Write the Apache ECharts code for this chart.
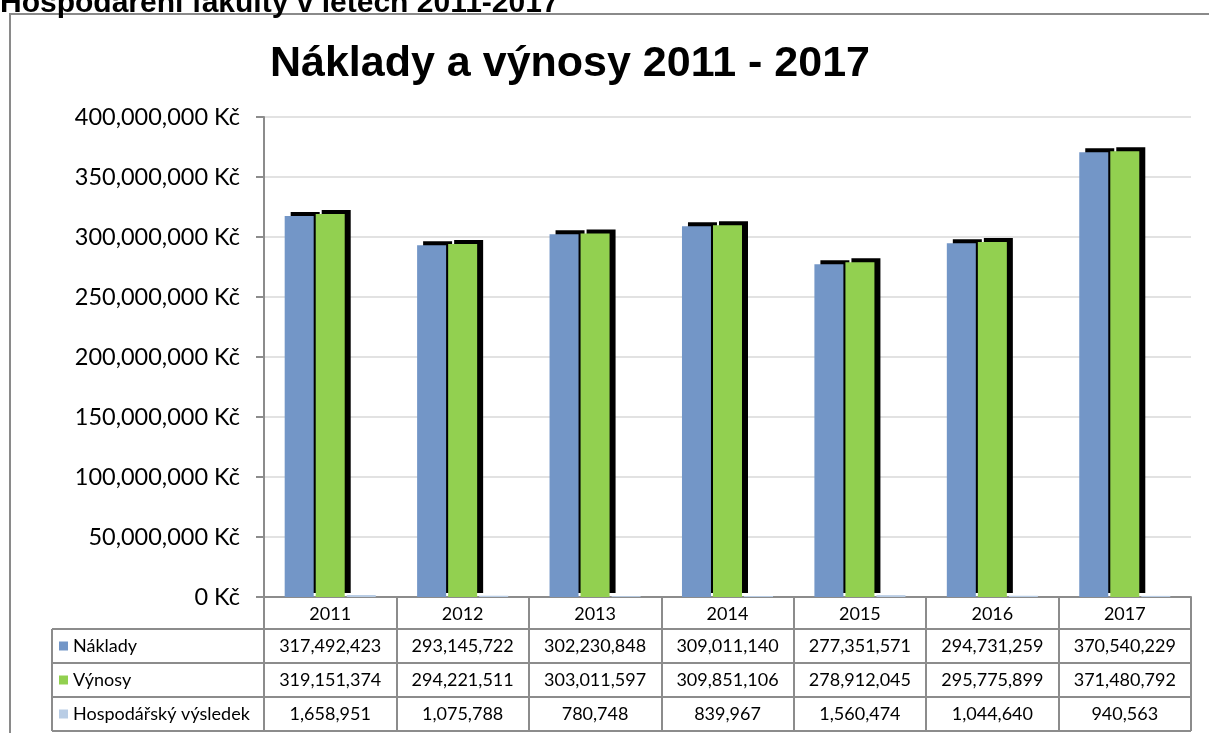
<!DOCTYPE html>
<html>
<head>
<meta charset="utf-8">
<script src="https://cdn.jsdelivr.net/npm/echarts@6/dist/echarts.min.js"></script>
<style>
html,body{margin:0;padding:0;background:#fff;}
#chart{width:1209px;height:733px;}
</style>
</head>
<body>
<div id="chart"></div>
<script>
// ---- data ----
var years = ['2011', '2012', '2013', '2014', '2015', '2016', '2017'];
var seriesNames = ['Náklady', 'Výnosy', 'Hospodářský výsledek'];
var naklady = [317492423, 293145722, 302230848, 309011140, 277351571, 294731259, 370540229];
var vynosy = [319151374, 294221511, 303011597, 309851106, 278912045, 295775899, 371480792];
var vysledek = [1658951, 1075788, 780748, 839967, 1560474, 1044640, 940563];
var yTicks = [0, 50000000, 100000000, 150000000, 200000000, 250000000, 300000000, 350000000, 400000000];
var chartTitle = 'Náklady a výnosy 2011 - 2017';
var pageTitle = 'Hospodaření fakulty v letech 2011-2017';

// ---- layout ----
var W = 1209, H = 733;
var gridLeft = 264, gridRight = 18, gridTop = 117, gridBottom = 136;
var axisY = H - gridBottom;         // y of 0 line
var rowH = 34;
var headH = 32;
var tableLeft = 52;
var tableBottom = axisY + headH + rowH * 3;
var colors = ['#7396C7', '#92D050', '#B9CDE5'];
var grey = '#8C8C8C';
var font = 'Lato, "Liberation Sans", sans-serif';

function fmt(v) { return v.toString().replace(/\B(?=(\d{3})+(?!\d))/g, ','); }

var chart = echarts.init(document.getElementById('chart'), null, {renderer: 'canvas'});

var barStyle = function (c, shadow) {
  var s = {color: c};
  if (shadow) {
    s.shadowColor = '#000';
    s.shadowBlur = 0;
    s.shadowOffsetX = 6;
    s.shadowOffsetY = -4;
  }
  return s;
};

var rows = [naklady, vynosy, vysledek];
var xAxes = [{
  type: 'category', data: years, gridIndex: 0, position: 'bottom',
  axisLine: {show: true, lineStyle: {color: grey, width: 2}},
  axisTick: {show: true, interval: 0, length: tableBottom - axisY, lineStyle: {color: grey, width: 2}},
  axisLabel: {color: '#000', fontFamily: font, fontSize: 18, margin: 8, interval: 0}
}];
rows.forEach(function (r, i) {
  xAxes.push({
    type: 'category', data: r.map(fmt), gridIndex: 0, position: 'bottom',
    offset: headH + rowH * i,
    axisLine: {show: false}, axisTick: {show: false},
    axisLabel: {color: '#000', fontFamily: font, fontSize: 18, margin: 8, interval: 0}
  });
});

var hLines = [];
for (var i = 0; i < 4; i++) {
  var y = axisY + headH + rowH * i;
  hLines.push({
    type: 'line', silent: true,
    shape: {x1: tableLeft, y1: y, x2: W - gridRight, y2: y},
    style: {stroke: grey, lineWidth: 2}
  });
}
hLines.push({
  type: 'line', silent: true,
  shape: {x1: tableLeft, y1: axisY + headH, x2: tableLeft, y2: tableBottom},
  style: {stroke: grey, lineWidth: 2}
});

var legends = seriesNames.map(function (n, i) {
  return {
    orient: 'vertical', left: tableLeft + 7, top: axisY + headH + rowH * i + 7,
    itemWidth: 9, itemHeight: 9, itemGap: 0, icon: 'rect', padding: 0,
    data: [n],
    textStyle: {fontFamily: font, fontSize: 18, color: '#000', lineHeight: 20}
  };
});

chart.setOption({
  animation: false,
  backgroundColor: '#fff',
  title: {
    text: chartTitle, left: 565, textAlign: 'center', top: 38,
    textStyle: {fontFamily: '"Liberation Sans", Arial, sans-serif', fontWeight: 'bold', fontSize: 43, color: '#000'}
  },
  legend: legends,
  grid: {left: gridLeft, right: gridRight, top: gridTop, bottom: gridBottom, containLabel: false},
  xAxis: xAxes,
  yAxis: {
    type: 'value', min: 0, max: 400000000, interval: 50000000,
    axisLine: {show: true, lineStyle: {color: grey, width: 2}},
    axisTick: {show: true, length: 8, lineStyle: {color: grey, width: 2}},
    splitLine: {show: true, lineStyle: {color: '#D9D9D9', width: 1.5}},
    axisLabel: {
      color: '#000', fontFamily: font, fontSize: 23.5, margin: 24,
      formatter: function (v) { return fmt(v) + ' Kč'; }
    }
  },
  series: [
    {name: seriesNames[0], type: 'bar', data: naklady, barWidth: 29, barGap: '7%', itemStyle: barStyle(colors[0], true)},
    {name: seriesNames[1], type: 'bar', data: vynosy, barWidth: 29, barGap: '7%', itemStyle: barStyle(colors[1], true)},
    {name: seriesNames[2], type: 'bar', data: vysledek, barWidth: 29, barGap: '7%', itemStyle: barStyle(colors[2], false)}
  ],
  graphic: [
    {type: 'rect', silent: true, z: 100, shape: {x: 10, y: 14, width: W + 20, height: H + 20},
     style: {fill: 'none', stroke: '#8A8A8A', lineWidth: 2}},
    {type: 'text', silent: true, z: 100, x: 0, y: 19,
     style: {text: pageTitle, fill: '#000', verticalAlign: 'bottom', font: 'bold 30px "Liberation Sans", Arial, sans-serif'}}
  ].concat(hLines)
});
</script>
</body>
</html>
